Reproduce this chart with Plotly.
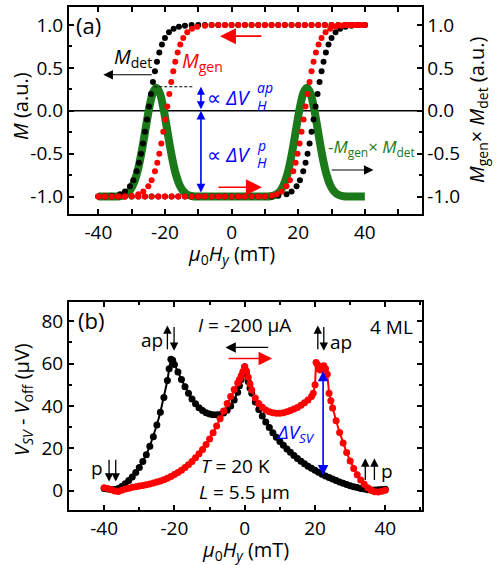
import plotly.graph_objects as go

# ---------------- Panel (a) data ----------------
# M_det, field sweep down (switch at negative field)
MDET_DOWN_X = [-40, -38, -36, -33.5, -32, -30.5, -29.5, -28.5, -27.8, -27.2, -26.6, -26, -25.4, -24.8,
               -24.2, -23.6, -23, -22.4, -21.7, -20.9, -20, -18.8, -17.4, -15.8,
               -14, -12, -10, -8, -6, -4, -2, 0, 2, 4, 6, 8, 10, 12, 14, 16, 18, 20, 22, 24, 26, 28,
               30, 32, 34, 36, 38, 40]
MDET_DOWN_Y = [-1.0, -1.0, -0.99, -0.972, -0.941, -0.880, -0.810, -0.704, -0.604, -0.500, -0.380, -0.245,
               -0.100, 0.050, 0.197, 0.336, 0.462, 0.572, 0.678, 0.772, 0.848, 0.914, 0.956, 0.980,
               0.99, 1.0, 1.0, 1.0, 1.0, 1.0, 1.0, 1.0, 1.0, 1.0, 1.0, 1.0, 1.0, 1.0, 1.0, 1.0, 1.0,
               1.0, 1.0, 1.0, 1.0, 1.0, 1.0, 1.0, 1.0, 1.0, 1.0, 1.0]
# M_gen, field sweep down
MGEN_DOWN_X = [-40, -38, -36, -34, -32, -30, -28, -26.5, -25, -24, -23, -22.3, -21.7, -21.1, -20.5,
               -19.9, -19.3, -18.7, -18.1, -17.5, -16.9, -16.2, -15.4, -14.5, -13.3, -11.9, -10.3,
               -8, -6, -4, -2, 0, 2, 4, 6, 8, 10, 12, 14, 16, 18, 20, 22, 24, 26, 28, 30, 32, 34,
               36, 38, 40]
MGEN_DOWN_Y = [-1.0, -1.0, -1.0, -1.0, -1.0, -0.99, -0.972, -0.941, -0.880, -0.810, -0.704, -0.604,
               -0.500, -0.380, -0.245, -0.100, 0.050, 0.197, 0.336, 0.462, 0.572, 0.678, 0.772,
               0.848, 0.914, 0.956, 0.980, 0.99, 1.0, 1.0, 1.0, 1.0, 1.0, 1.0, 1.0, 1.0, 1.0, 1.0,
               1.0, 1.0, 1.0, 1.0, 1.0, 1.0, 1.0, 1.0, 1.0, 1.0, 1.0, 1.0, 1.0, 1.0]
# M_det, field sweep up (switch at positive field)
MDET_UP_X = [-40, -38, -36, -34, -32, -30, -28, -26, -24, -22, -20, -18, -16, -14, -12, -10, -8, -6,
             -4, -2, 0, 2, 4, 6, 8, 10, 12, 14, 16.5, 18, 19.5, 20.5, 21.5, 22.2, 22.8, 23.4, 24,
             24.6, 25.2, 25.8, 26.4, 27, 27.6, 28.3, 29.1, 30, 31.2, 32.6, 34.2, 36, 38, 40]
MDET_UP_Y = [-1.0, -1.0, -1.0, -1.0, -1.0, -1.0, -1.0, -1.0, -1.0, -1.0, -1.0, -1.0, -1.0, -1.0,
             -1.0, -1.0, -1.0, -1.0, -1.0, -1.0, -1.0, -1.0, -1.0, -1.0, -1.0, -1.0, -1.0, -0.99,
             -0.972, -0.941, -0.880, -0.810, -0.704, -0.604, -0.500, -0.380, -0.245, -0.100, 0.050,
             0.197, 0.336, 0.462, 0.572, 0.678, 0.772, 0.848, 0.914, 0.956, 0.980, 0.99, 1.0, 1.0]
# M_gen, field sweep up
MGEN_UP_X = [-40, -38, -36, -34, -32, -30, -28, -26, -24, -22, -20, -18, -16, -14, -12, -10, -8, -6,
             -4, -2, 0, 2, 4, 6, 8, 10, 12, 13.5, 15, 16.5, 17.5, 18.5, 19.2, 19.8, 20.4, 21, 21.6,
             22.2, 22.8, 23.4, 24, 24.6, 25.3, 26.1, 27, 28.2, 29.6, 31.2, 33, 35, 37, 39]
MGEN_UP_Y = [-1.0, -1.0, -1.0, -1.0, -1.0, -1.0, -1.0, -1.0, -1.0, -1.0, -1.0, -1.0, -1.0, -1.0,
             -1.0, -1.0, -1.0, -1.0, -1.0, -1.0, -1.0, -1.0, -1.0, -1.0, -1.0, -1.0, -0.99,
             -0.972, -0.941, -0.880, -0.810, -0.704, -0.604, -0.500, -0.380, -0.245, -0.100, 0.050,
             0.197, 0.336, 0.462, 0.572, 0.678, 0.772, 0.848, 0.914, 0.956, 0.980, 0.99, 1.0, 1.0, 1.0]
# -M_gen x M_det (green)
PROD_X = [-40, -37, -35.6, -34.6, -33.6, -32.6, -31.6, -30.6, -29.6, -28.6, -27.6, -26.6, -25.6,
          -24.6, -23.6, -22.6, -21.6, -20.6, -19.6, -18.6, -17.6, -16.6, -15.6, -14.6, -13.6,
          -12.6, -11.6, -10.6, -9.6, 0, 9.6, 10.6, 11.6, 12.6, 13.6, 14.6, 15.6, 16.6, 17.6, 18.6,
          19.6, 20.6, 21.6, 22.6, 23.6, 24.6, 25.6, 26.6, 27.6, 28.6, 29.6, 30.6, 31.6, 32.6,
          33.6, 34.6, 35.6, 38, 40]
PROD_Y = [-1.0, -1.0, -0.999, -0.998, -0.995, -0.987, -0.969, -0.933, -0.866, -0.757, -0.597,
          -0.391, -0.160, 0.057, 0.213, 0.270, 0.213, 0.057, -0.160, -0.391, -0.597, -0.757,
          -0.866, -0.933, -0.969, -0.987, -0.995, -0.998, -0.999, -1.0, -0.999, -0.998, -0.995,
          -0.987, -0.969, -0.933, -0.866, -0.757, -0.597, -0.391, -0.160, 0.057, 0.213, 0.270,
          0.213, 0.057, -0.160, -0.391, -0.597, -0.757, -0.866, -0.933, -0.969, -0.987, -0.995,
          -0.998, -0.999, -1.0, -1.0]

A_XTICKS = [-40, -20, 0, 20, 40]
A_XTICKTEXT = ["-40", "-20", "0", "20", "40"]
A_YTICKS = [-1.0, -0.5, 0.0, 0.5, 1.0]
A_YTICKTEXT = ["-1.0", "-0.5", "0.0", "0.5", "1.0"]

# ---------------- Panel (b) data ----------------
VB_BLACK_X = [-40, -39, -38, -37, -36, -35, -34, -33, -32, -31, -30, -29, -28, -27, -26, -25, -24,
              -23, -22, -21.5, -21, -20.5, -20, -19, -18, -17, -16, -15, -14, -13, -12, -11, -10,
              -9, -8, -7, -6, -5, -4, -3, -2, -1.5, -1, -0.5, 0, 0.5, 1, 1.5, 2, 3, 4, 5, 6, 7,
              8, 9, 10, 11, 12, 13, 14, 15, 16, 17, 18, 19, 20, 21, 22, 23, 24, 25, 26, 27, 28,
              29, 30, 31, 32, 33, 34, 35, 36, 37, 38, 39, 40]
VB_BLACK_Y = [1.0, 0.8, 0.6, 0.6, 1.0, 2.0, 3.3, 4.8, 6.5, 8.6, 11.0, 13.8, 17.0, 21.0, 25.5, 31.0,
              37.0, 44.0, 52.0, 57.5, 62.0, 61.5, 59.5, 56.0, 52.5, 49.0, 46.0, 43.3, 41.0, 39.2,
              37.8, 36.8, 36.2, 35.9, 35.8, 36.0, 36.7, 38.0, 40.0, 42.8, 46.5, 49.5, 52.5, 55.5,
              58.5, 55.0, 51.5, 48.5, 46.0, 41.8, 38.3, 35.2, 32.4, 29.8, 27.4, 25.2, 23.2, 21.4,
              19.7, 18.1, 16.6, 15.2, 13.9, 12.7, 11.6, 10.6, 9.6, 8.7, 7.8, 7.0, 6.2, 5.5, 4.8,
              4.1, 3.5, 2.9, 2.4, 1.9, 1.5, 1.1, 0.8, 0.5, 0.3, 0.3, 0.4, 0.6, 0.7]
VB_RED_X = [-40, -39, -38, -37, -36, -35, -34, -33, -32, -31, -30, -29, -28, -27, -26, -25, -24,
            -23, -22, -21, -20, -19, -18, -17, -16, -15, -14, -13, -12, -11, -10, -9, -8, -7, -6,
            -5, -4, -3, -2, -1.5, -1, -0.5, 0, 0.5, 1, 1.5, 2, 3, 4, 5, 6, 7, 8, 9, 10, 11, 12,
            13, 14, 15, 16, 17, 18, 19, 19.5, 20, 20.3, 20.7, 21, 21.5, 22, 22.5, 23, 23.5, 24,
            24.5, 25, 26, 27, 28, 29, 30, 31, 32, 33, 34, 35, 36, 37, 38, 39, 40]
VB_RED_Y = [1.4, 1.0, 0.5, -0.1, -0.4, 0.2, 0.8, 1.2, 1.6, 1.9, 2.2, 2.5, 2.8, 3.2, 3.6, 4.1, 4.6,
            5.2, 5.9, 6.7, 7.6, 8.6, 9.7, 11.0, 12.3, 13.8, 15.5, 17.4, 19.5, 21.8, 24.4, 27.3,
            30.5, 34.0, 37.6, 41.1, 44.5, 47.7, 50.8, 52.5, 54.3, 56.3, 58.5, 56.5, 53.5, 50.3,
            47.5, 43.8, 41.2, 39.4, 38.1, 37.3, 36.8, 36.6, 36.6, 36.8, 37.2, 37.8, 38.5, 39.3,
            40.3, 41.5, 42.8, 44.5, 46.0, 50.0, 60.5, 59.5, 57.5, 57.0, 58.5, 59.0, 57.5, 55.0,
            46.0, 42.5, 39.0, 33.0, 27.5, 22.5, 18.0, 14.0, 10.5, 7.5, 5.0, 3.0, 1.4, 0.2, -0.5,
            -0.6, -0.3, 0.2]

B_XTICKS = [-40, -20, 0, 20, 40]
B_XTICKTEXT = ["-40", "-20", "0", "20", "40"]
B_YTICKS = [0, 20, 40, 60, 80]
B_YTICKTEXT = ["0", "20", "40", "60", "80"]

for a, b in [(MDET_DOWN_X, MDET_DOWN_Y), (MGEN_DOWN_X, MGEN_DOWN_Y), (MDET_UP_X, MDET_UP_Y),
             (MGEN_UP_X, MGEN_UP_Y), (PROD_X, PROD_Y), (VB_BLACK_X, VB_BLACK_Y), (VB_RED_X, VB_RED_Y)]:
    assert len(a) == len(b), (len(a), len(b))

# ---------------- Figure ----------------
W, H = 498, 565
FONT = "Open Sans"
BLACK = "#000000"
RED = "#ff0000"
GREEN = "#1a7a1a"
BLUE = "#0000ff"

def px_x(p):
    return p / W

def px_y(p):
    return 1 - p / H

XDOM = [px_x(69), px_x(421.5)]
YDOM_A = [px_y(214.3), px_y(7.3)]
YDOM_B = [px_y(510), px_y(302.3)]
A_YRANGE = [-1.206, 1.206]

fig = go.Figure()

# panel (a): green product curve on the left axis, magnetisation dots on the right (overlaying) axis
fig.add_trace(go.Scatter(x=PROD_X, y=PROD_Y, mode="lines", line=dict(color=GREEN, width=8, shape="spline"),
                         xaxis="x", yaxis="y", hoverinfo="skip"))
for xs, ys, col in [(MDET_DOWN_X, MDET_DOWN_Y, BLACK), (MDET_UP_X, MDET_UP_Y, BLACK),
                    (MGEN_DOWN_X, MGEN_DOWN_Y, RED), (MGEN_UP_X, MGEN_UP_Y, RED)]:
    fig.add_trace(go.Scatter(x=xs, y=ys, mode="markers", marker=dict(color=col, size=6, line=dict(width=0)),
                             xaxis="x", yaxis="y2", hoverinfo="skip"))

# panel (b)
fig.add_trace(go.Scatter(x=VB_BLACK_X, y=VB_BLACK_Y, mode="lines+markers",
                         line=dict(color=BLACK, width=2), marker=dict(color=BLACK, size=7),
                         xaxis="x2", yaxis="y3", hoverinfo="skip"))
fig.add_trace(go.Scatter(x=VB_RED_X, y=VB_RED_Y, mode="lines+markers",
                         line=dict(color=RED, width=2), marker=dict(color=RED, size=7),
                         xaxis="x2", yaxis="y3", hoverinfo="skip"))

TICK_SIZE = 19
tickfont = dict(family=FONT, size=TICK_SIZE, color="black")
minor_base = dict(ticks="inside", ticklen=3, tickwidth=1.5, tickcolor="black", showgrid=False)
common_ax = dict(showline=True, linewidth=2, linecolor="black", ticks="inside", ticklen=5,
                 tickwidth=1.5, tickcolor="black", showgrid=False, zeroline=False, tickfont=tickfont)

fig.update_layout(
    width=W, height=H, margin=dict(l=0, r=0, t=0, b=0),
    paper_bgcolor="white", plot_bgcolor="white", showlegend=False,
    font=dict(family=FONT, size=18, color="black"),
    xaxis=dict(domain=XDOM, anchor="y", range=[-48.8, 57], tickvals=A_XTICKS, ticktext=A_XTICKTEXT,
               mirror="allticks", minor=dict(minor_base, dtick=10, tick0=0), **common_ax),
    yaxis=dict(domain=YDOM_A, anchor="x", range=A_YRANGE, tickvals=A_YTICKS, ticktext=A_YTICKTEXT,
               minor=dict(minor_base, dtick=0.25, tick0=0), **common_ax),
    yaxis2=dict(overlaying="y", side="right", anchor="x", range=A_YRANGE, tickvals=A_YTICKS,
                ticktext=A_YTICKTEXT, minor=dict(minor_base, dtick=0.25, tick0=0), **common_ax),
    xaxis2=dict(domain=XDOM, anchor="y3", range=[-50, 50.3], tickvals=B_XTICKS, ticktext=B_XTICKTEXT,
                mirror="allticks", minor=dict(minor_base, dtick=10, tick0=0), **common_ax),
    yaxis3=dict(domain=YDOM_B, anchor="x2", range=[-9.1, 88.9], tickvals=B_YTICKS, ticktext=B_YTICKTEXT,
                mirror="allticks", minor=dict(minor_base, dtick=10, tick0=0), **common_ax),
)

# zero line and dashed guide in (a)
fig.add_shape(type="line", xref="x", yref="y", x0=-48.8, x1=57, y0=0, y1=0,
              line=dict(color="black", width=1.5), layer="below")
fig.add_shape(type="line", xref="x", yref="y", x0=-23.2, x1=-11.5, y0=0.28, y1=0.28,
              line=dict(color="black", width=1.2, dash="3px,2px"))

ann = []

def text(x, y, s, xref="x", yref="y", size=18, color="black", xanchor="center", yanchor="middle",
         angle=0, xshift=0):
    ann.append(dict(x=x, y=y, xref=xref, yref=yref, text=s, showarrow=False, xanchor=xanchor,
                    yanchor=yanchor, textangle=angle, xshift=xshift,
                    font=dict(family=FONT, size=size, color=color)))

def arrow(x0, y0, x1, y1, xref="x", yref="y", color="black", width=1.3, size=1.6, both=False):
    d = dict(x=x1, y=y1, ax=x0, ay=y0, xref=xref, yref=yref, axref=xref, ayref=yref, text="",
             showarrow=True, arrowhead=2, arrowsize=size, arrowwidth=width, arrowcolor=color, standoff=0)
    if both:
        d.update(arrowside="end+start", startarrowhead=2, startarrowsize=size, startstandoff=0)
    ann.append(d)

# ---- panel (a) annotations
text(-43, 1.0, "(a)", size=22)
text(-29.6, 0.62, "<i>M</i><sub>det</sub>", size=20)
text(-8.6, 0.57, "<i>M</i><sub>gen</sub>", size=20, color=RED)
arrow(9.4, 0.87, -3.5, 0.87, color=RED, width=1.6, size=2.0)
arrow(-23.5, 0.42, -38.5, 0.42, color="black", width=1.2, size=1.6)
arrow(-4.4, -0.89, 9.1, -0.89, color=RED, width=1.6, size=2.0)
arrow(29.6, -0.69, 42.6, -0.69, color="black", width=1.2, size=1.6)
arrow(-9.2, 0.0, -9.2, 0.28, color=BLUE, width=1.6, size=1.0, both=True)
arrow(-9.2, -0.97, -9.2, 0.0, color=BLUE, width=1.6, size=1.1, both=True)
text(6.2, 0.16, "∝ <i>ΔV</i>", size=20, color=BLUE, xanchor="right")
text(6.2, 0.27, "<i>ap</i>", size=14, color=BLUE, xanchor="left", xshift=3)
text(6.2, 0.065, "<i>H</i>", size=14, color=BLUE, xanchor="left", xshift=3)
text(6.2, -0.51, "∝ <i>ΔV</i>", size=20, color=BLUE, xanchor="right")
text(6.2, -0.40, "<i>p</i>", size=14, color=BLUE, xanchor="left", xshift=3)
text(6.2, -0.605, "<i>H</i>", size=14, color=BLUE, xanchor="left", xshift=3)
text(42.1, -0.43, "-<i>M</i><sub>gen</sub>× <i>M</i><sub>det</sub>", size=17, color=GREEN)

# axis titles (a)
text(px_x(231.5), px_y(254), "<i>μ</i><sub>0</sub><i>H<sub>y</sub></i> (mT)", xref="paper", yref="paper", size=20)
text(px_x(20), px_y(106), "<i>M</i> (a.u.)", xref="paper", yref="paper", angle=-90, size=20)
text(px_x(478), px_y(110), "<i>M</i><sub>gen</sub>× <i>M</i><sub>det</sub> (a.u.)", xref="paper",
     yref="paper", angle=-90, size=20)

# ---- panel (b) annotations
XB, YB = "x2", "y3"
text(-43.8, 80.5, "(b)", xref=XB, yref=YB, size=22)
text(0, 78.2, "<i>I</i> = -200 μA", xref=XB, yref=YB, size=19)
text(41.9, 77.4, "4 ML", xref=XB, yref=YB, size=19)
arrow(7.1, 67.6, -5.5, 67.6, xref=XB, yref=YB, color="black", width=1.3, size=1.6)
arrow(-5.0, 62.4, 7.8, 62.4, xref=XB, yref=YB, color=RED, width=1.6, size=1.7)
# ap (left)
text(-26.5, 71, "ap", xref=XB, yref=YB, size=19)
arrow(-22.0, 66, -22.0, 78, xref=XB, yref=YB, width=1.3, size=1.3)
arrow(-20.1, 78, -20.1, 66, xref=XB, yref=YB, width=1.3, size=1.3)
# ap (right)
arrow(20.8, 66, 20.8, 78, xref=XB, yref=YB, width=1.3, size=1.3)
arrow(22.5, 78, 22.5, 66, xref=XB, yref=YB, width=1.3, size=1.3)
text(27.4, 70.3, "ap", xref=XB, yref=YB, size=19)
# p (left)
text(-42.0, 10.6, "p", xref=XB, yref=YB, size=19)
arrow(-38.6, 15.3, -38.6, 4.3, xref=XB, yref=YB, width=1.3, size=1.3)
arrow(-36.7, 15.3, -36.7, 4.3, xref=XB, yref=YB, width=1.3, size=1.3)
# p (right)
arrow(34.3, 4.3, 34.3, 15.3, xref=XB, yref=YB, width=1.3, size=1.3)
arrow(36.9, 4.3, 36.9, 15.3, xref=XB, yref=YB, width=1.3, size=1.3)
text(40.6, 9.5, "p", xref=XB, yref=YB, size=19)
# Delta V_SV
arrow(22.3, 6.5, 22.3, 56.5, xref=XB, yref=YB, color=BLUE, width=1.6, size=1.3, both=True)
text(14.5, 27, "<i>ΔV<sub>SV</sub></i>", xref=XB, yref=YB, color=BLUE, size=19)
text(-2.5, 11.5, "<i>T</i> = 20 K", xref=XB, yref=YB, size=19)
text(0, -0.5, "<i>L</i> = 5.5 μm", xref=XB, yref=YB, size=19)

# axis titles (b)
text(px_x(245), px_y(550), "<i>μ</i><sub>0</sub><i>H<sub>y</sub></i> (mT)", xref="paper", yref="paper", size=20)
text(px_x(22), px_y(400), "<i>V<sub>SV</sub></i> - <i>V</i><sub>off</sub> (μV)", xref="paper",
     yref="paper", angle=-90, size=20)

fig.update_layout(annotations=ann)
fig.write_html("out.html", config={"displayModeBar": False})
